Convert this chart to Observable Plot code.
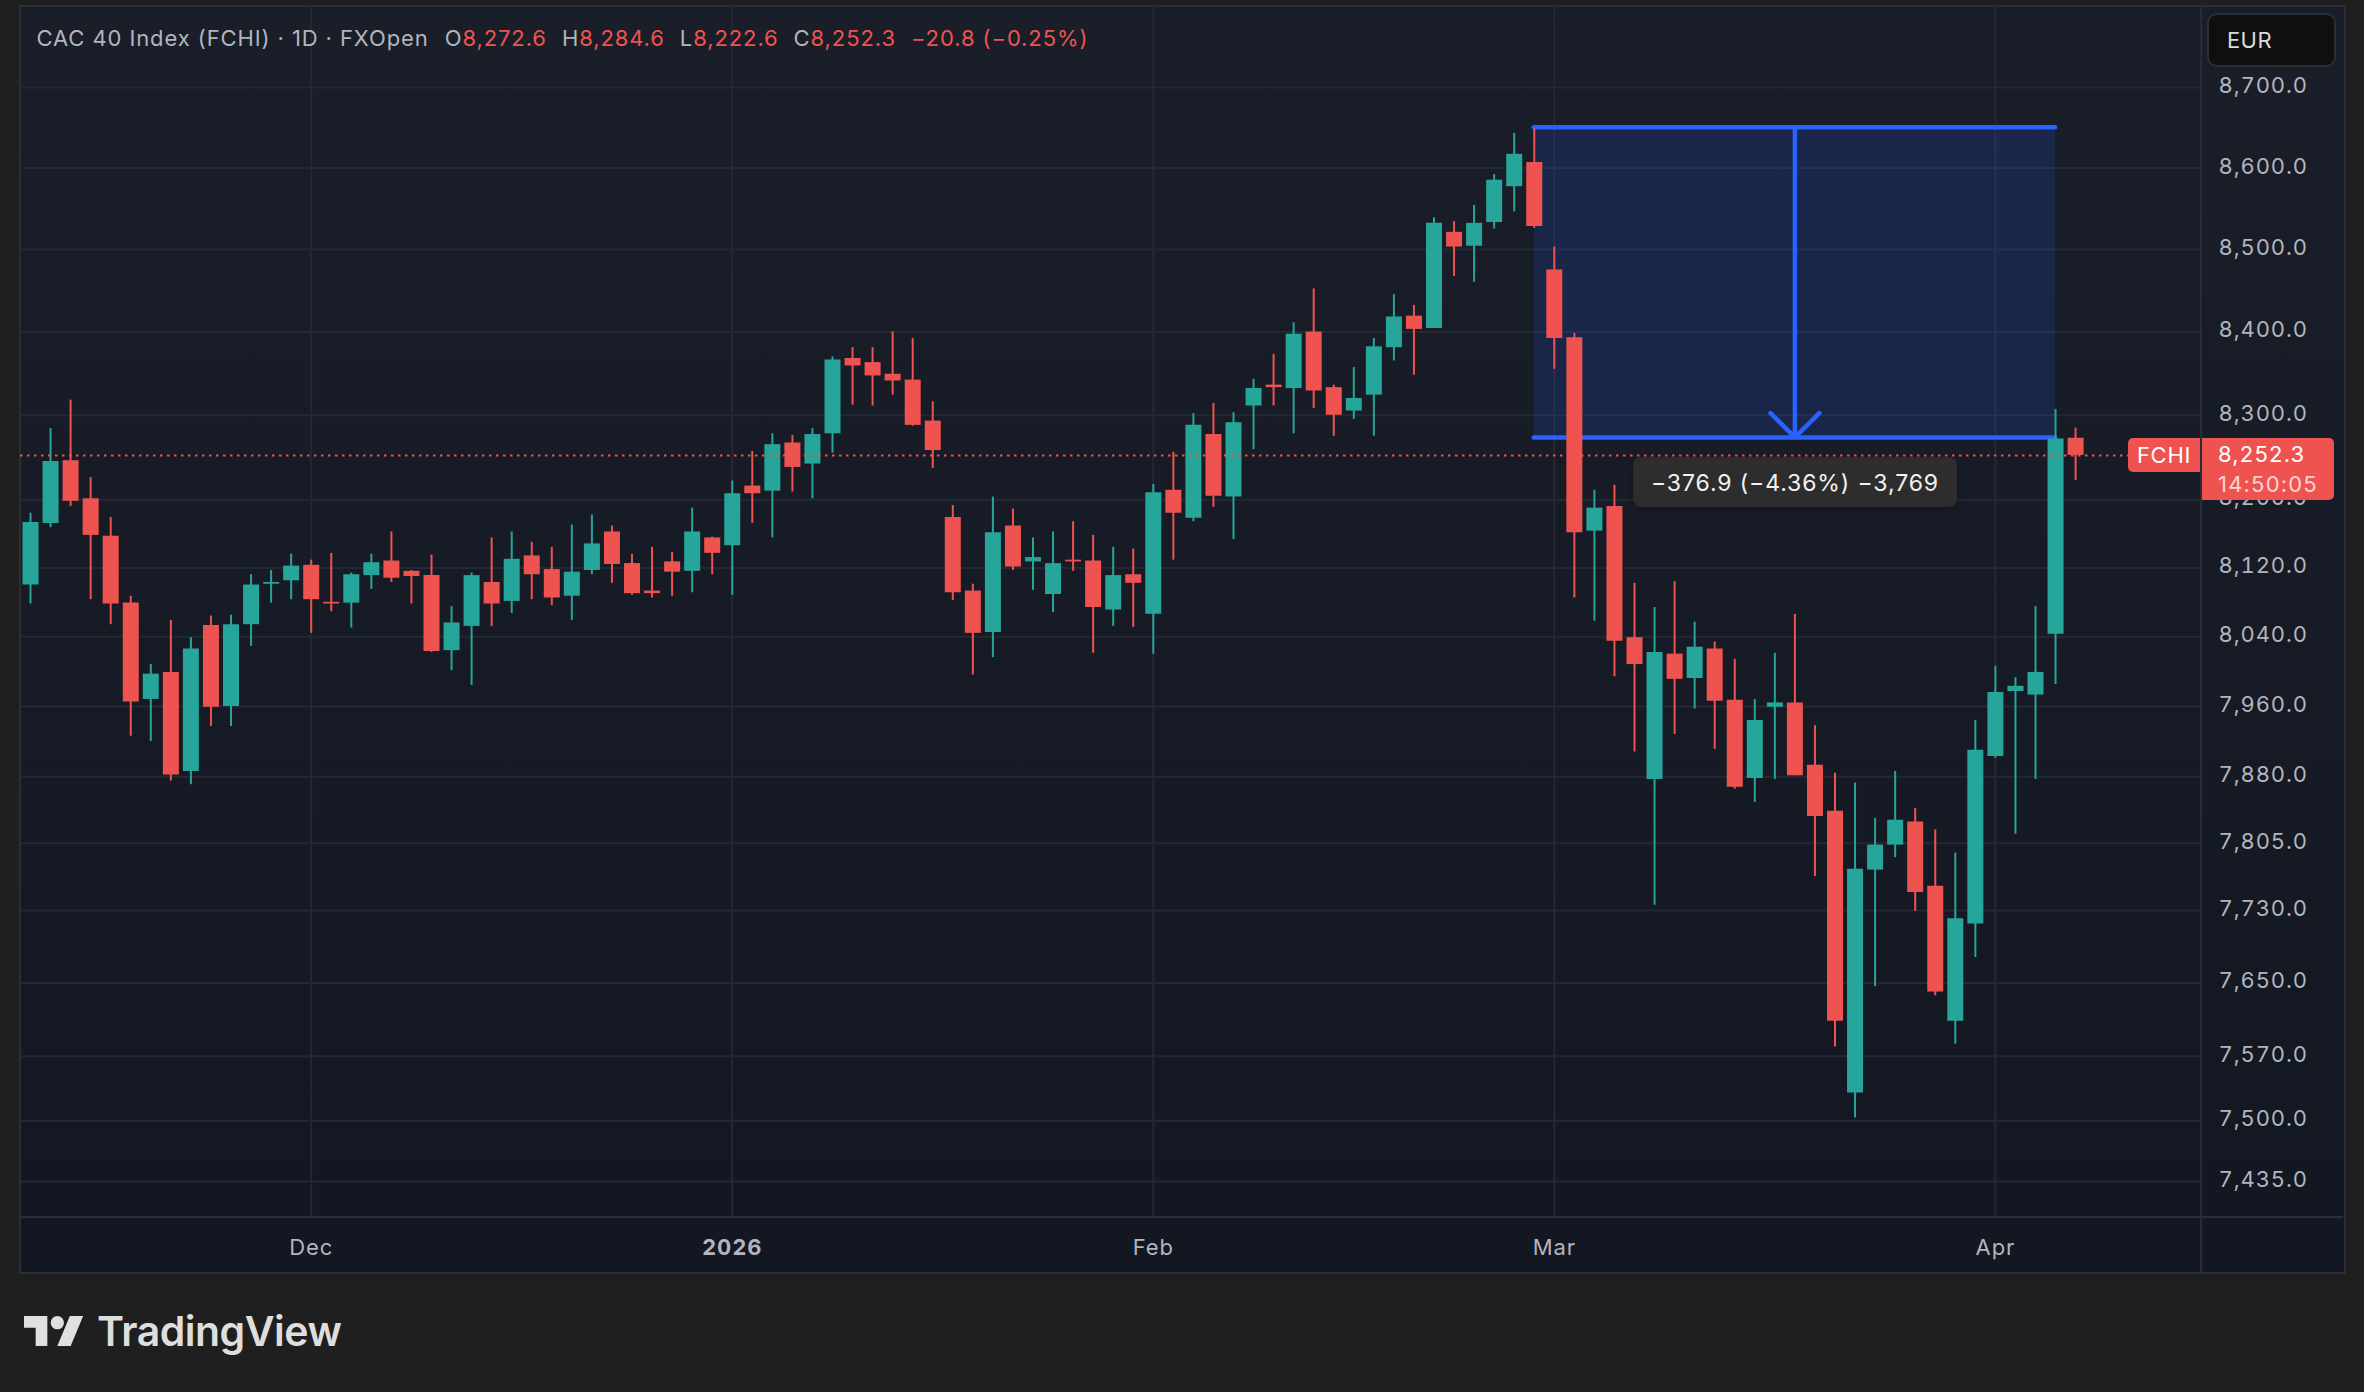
<!DOCTYPE html>
<html>
<head>
<meta charset="utf-8">
<script src="https://cdn.jsdelivr.net/npm/d3@7"></script>
<script src="https://cdn.jsdelivr.net/npm/@observablehq/plot@0.6"></script>
<style>
  html,body{margin:0;padding:0;background:#1f1f1f;width:2364px;height:1392px;overflow:hidden;font-family:Inter,sans-serif}
  #panel{position:absolute;left:19px;top:5px;width:2323px;height:1265px;border:2px solid #2a2e39;background:linear-gradient(#1a1e29,#121722)}
  #chart{position:absolute;left:0;top:0}
  .abs{position:absolute;white-space:pre}
  #legend{left:36.5px;top:25px;font-size:22px;line-height:26px;letter-spacing:.9px;color:#b2b5be}
  #legend b{font-weight:400;color:#ef5350}
  #eur{left:2207px;top:13px;width:125px;height:50px;background:#0f0f0f;border:2px solid #2a2e39;border-radius:10px;color:#dbdbdb;font-size:22px;line-height:50px;letter-spacing:.4px}
  #eur span{margin-left:18px}
  .tag{background:#ef5350;color:#fff;font-size:22px}
  #fchi{left:2128px;top:438px;width:72px;height:34px;line-height:34px;text-align:center;border-radius:5px 0 0 5px;font-size:22px;letter-spacing:.7px}
  #last{left:2202px;top:438px;width:132px;height:62px;border-radius:0 5px 5px 0}
  #last div{padding-left:16px;letter-spacing:1.2px}
  #last .p{height:32px;line-height:33px}
  #last .t{height:30px;line-height:28px;opacity:.75}
  #tip{left:1633px;top:457px;width:324px;height:50px;line-height:52px;text-align:center;background:#2d2d2d;border-radius:8px;color:#f2f2f2;font-size:23px;letter-spacing:.9px;box-shadow:0 1px 4px rgba(0,0,0,.3)}
  #logoText{left:97px;top:1305px;font-size:41px;line-height:52px;font-weight:600;color:#dedede;letter-spacing:-.5px}
  #logo{position:absolute;left:24px;top:1316px}
</style>
</head>
<body>
<div id="panel"></div>
<div id="chart"></div>
<div class="abs" id="legend">CAC 40 Index (FCHI) · 1D · FXOpen<span style="margin-left:16px">O</span><b>8,272.6</b><span style="margin-left:15px">H</span><b>8,284.6</b><span style="margin-left:15px">L</span><b>8,222.6</b><span style="margin-left:15px">C</span><b>8,252.3</b><b style="margin-left:15px">−20.8 (−0.25%)</b></div>
<div class="abs" id="eur"><span>EUR</span></div>
<div class="abs tag" id="fchi">FCHI</div>
<div class="abs tag" id="last"><div class="p">8,252.3</div><div class="t">14:50:05</div></div>
<div class="abs" id="tip">−376.9 (−4.36%) −3,769</div>
<svg id="logo" width="60" height="30" viewBox="0 4 36 18" fill="#e0e0e0"><path d="M14 22H7V11H0V4h14v18zM28 22h-8l7.5-18h8L28 22z"/><circle cx="20" cy="8" r="4"/></svg>
<div class="abs" id="logoText">TradingView</div>
<script>
const opens = [8100,8172,8246,8201,8157,8079,7968,7999,7886,8053,
  7960,8054,8101,8105,8123,8080,8079,8111,8128,8116,
  8111,8024,8052,8103,8081,8134,8118,8087,8117,8162,
  8125,8093,8127,8116,8155,8146,8216,8210,8267,8242,
  8278,8368,8363,8349,8342,8293,8179,8093,8045,8169,
  8127,8089,8129,8128,8071,8112,8066,8211,8178,8277,
  8203,8311,8336,8332,8400,8333,8305,8324,8381,8419,
  8404,8521,8504,8533,8577,8607,8475,8393,8163,8192,
  8039,7877,8020,7992,8026,7967,7878,7959,7964,7893,
  7841,7530,7775,7803,7829,7757,7608,7715,7903,7977,
  7973,8043,8272.6];
const highs = [8184,8284,8318,8226,8179,8087,8008,8059,8039,8064,
  8065,8112,8117,8136,8129,8137,8114,8136,8162,8117,
  8135,8075,8114,8155,8162,8150,8144,8170,8182,8169,
  8136,8144,8138,8190,8156,8222,8257,8278,8276,8284,
  8370,8381,8381,8400,8392,8316,8193,8101,8203,8189,
  8155,8162,8174,8158,8144,8142,8218,8256,8302,8314,
  8303,8343,8373,8411,8452,8336,8357,8392,8445,8432,
  8539,8534,8554,8592,8643,8648.6,8503,8398,8211,8217,
  8102,8074,8104,8057,8034,8014,7968,8021,8066,7938,
  7884,7873,7833,7886,7844,7820,7794,7944,8006,7993,
  8075,8307,8284.6];
const lows = [8078,8167,8192,8083,8054,7926,7920,7875,7871,7937,
  7937,8029,8079,8083,8044,8069,8050,8095,8103,8078,
  8022,8001,7984,8052,8067,8083,8076,8059,8112,8102,
  8088,8085,8087,8091,8112,8088,8172,8155,8209,8201,
  8255,8312,8311,8324,8287,8237,8082,7996,8016,8117,
  8094,8068,8116,8021,8052,8051,8020,8129,8174,8191,
  8153,8259,8311,8278,8308,8275,8295,8275,8365,8348,
  8404,8467,8460,8525,8546,8526,8355,8085,8058,7994,
  7908,7736,7928,7957,7911,7866,7851,7877,7881,7768,
  7580,7503,7646,7789,7729,7636,7583,7678,7901,7815,
  7877,7985,8222.6];
const closes = [8173,8245,8198,8158,8078,7965,7997,7882,8026,7959,
  8054,8100,8103,8122,8083,8078,8112,8126,8108,8110,
  8023,8056,8111,8078,8130,8112,8085,8115,8148,8124,
  8090,8090,8115,8162,8137,8207,8207,8265,8238,8277,
  8366,8359,8347,8341,8288,8258,8091,8044,8161,8121,
  8132,8125,8127,8074,8111,8102,8208,8184,8288,8204,
  8291,8332,8333,8397,8329,8300,8320,8382,8418,8403,
  8532,8503,8532,8585,8617,8528,8392,8161,8190,8035,
  8008,8022,7991,8028,7966,7868,7944,7964,7881,7835,
  7608,7776,7803,7831,7750,7640,7721,7910,7976,7983,
  7999,8271.7,8252.3];

const priceTicks = [8700,8600,8500,8400,8300,8200,8120,8040,7960,7880,7805,7730,7650,7570,7500,7435];
const monthTicks = [14,56,76,98];
const monthLabels = ["Dec","Feb","Mar","Apr"];
const yearTicks = [35];
const yearLabels = ["2026"];

const lastPrice = 8252.3;
const measureFrom = 8650.5, measureTo = 8273.6;
const measureStart = 75, measureEnd = 101, measureMid = 88;

const candles = opens.map((o,i)=>({i,open:o,high:highs[i],low:lows[i],close:closes[i]}));
const up = candles.filter(d=>d.close>=d.open);
const down = candles.filter(d=>d.close<d.open);
const GREEN="#26a69a", RED="#ef5350", BLUE="#2962ff", GRID="#242832", LINE="#2a2e39";

const chart = Plot.plot({
  width:2364, height:1392,
  marginLeft:20, marginRight:164, marginTop:6, marginBottom:175,
  style:{background:"transparent",fontFamily:"Inter, sans-serif",fontSize:"22px",letterSpacing:".9px"},
  x:{type:"linear",domain:[0,102],range:[30,2075.1]},
  y:{type:"log",domain:[7435,8700],range:[1180.9,87.1]},
  marks:[
    Plot.ruleY(priceTicks,{stroke:GRID,strokeWidth:2}),
    Plot.ruleX(monthTicks.concat(yearTicks),{stroke:GRID,strokeWidth:2}),
    Plot.rect([{x1:measureStart,x2:measureEnd,y1:measureTo,y2:measureFrom}],{x1:"x1",x2:"x2",y1:"y1",y2:"y2",fill:BLUE,fillOpacity:.15}),
    Plot.ruleY([measureFrom,measureTo],{x1:measureStart,x2:measureEnd,stroke:BLUE,strokeWidth:4.5,strokeLinecap:"round"}),
    Plot.arrow([{x:measureMid,a:measureFrom,b:measureTo}],{x1:"x",x2:"x",y1:"a",y2:"b",stroke:BLUE,strokeWidth:4.5,bend:0,headAngle:90,headLength:11.5,insetEnd:0,insetStart:0}),
    Plot.ruleX(up,{x:"i",y1:"low",y2:"high",stroke:GREEN,strokeWidth:2}),
    Plot.ruleX(down,{x:"i",y1:"low",y2:"high",stroke:RED,strokeWidth:2}),
    Plot.ruleX(up,{x:"i",y1:"open",y2:"close",stroke:GREEN,strokeWidth:16}),
    Plot.ruleX(down,{x:"i",y1:"open",y2:"close",stroke:RED,strokeWidth:16}),
    Plot.ruleY([lastPrice],{x1:-0.5,x2:104.7,stroke:RED,strokeWidth:2,strokeDasharray:"2.5 4.5"}),
    Plot.ruleX([108.26],{stroke:LINE,strokeWidth:2,insetBottom:-55}),
    Plot.axisY(priceTicks,{anchor:"right",tickSize:0,tickPadding:18,dy:-1.5,label:null,color:"#b2b5be",tickFormat:d3.format(",.1f")}),
    Plot.axisX(monthTicks,{anchor:"bottom",tickSize:0,tickPadding:22,label:null,color:"#b2b5be",tickFormat:d=>monthLabels[monthTicks.indexOf(d)]}),
    Plot.axisX(yearTicks,{anchor:"bottom",tickSize:0,tickPadding:22,label:null,color:"#b2b5be",fontWeight:700,tickFormat:d=>yearLabels[yearTicks.indexOf(d)]}),
    () => d3.create("svg:line").attr("x1",20).attr("x2",2343).attr("y1",1217).attr("y2",1217).attr("stroke",LINE).attr("stroke-width",2).node()
  ]
});
document.getElementById("chart").append(chart);
</script>
</body>
</html>
